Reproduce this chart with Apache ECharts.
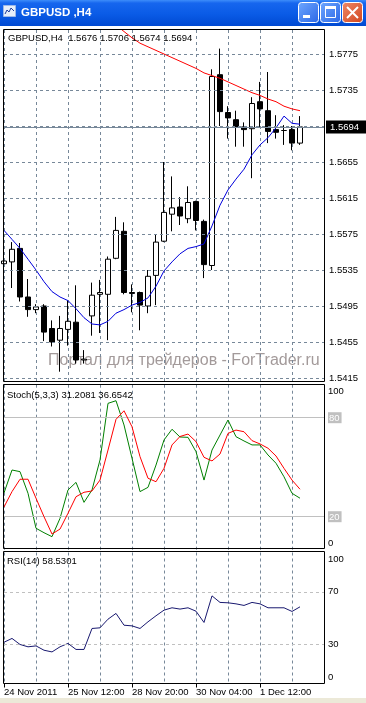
<!DOCTYPE html>
<html><head><meta charset="utf-8">
<script src="https://cdn.jsdelivr.net/npm/echarts@6/dist/echarts.min.js"></script>
<style>html,body{margin:0;padding:0;background:#fff;overflow:hidden}#c{width:366px;height:703px}</style>
</head><body><div id="c"></div><script>
// ---------- data ----------
const symbolName = 'GBPUSD,H4';
const categories = [
 '2011.11.24 04:00','2011.11.24 08:00','2011.11.24 12:00','2011.11.24 16:00','2011.11.24 20:00',
 '2011.11.25 00:00','2011.11.25 04:00','2011.11.25 08:00','2011.11.25 12:00','2011.11.25 16:00','2011.11.25 20:00',
 '2011.11.28 00:00','2011.11.28 04:00','2011.11.28 08:00','2011.11.28 12:00','2011.11.28 16:00','2011.11.28 20:00',
 '2011.11.29 00:00','2011.11.29 04:00','2011.11.29 08:00','2011.11.29 12:00','2011.11.29 16:00','2011.11.29 20:00',
 '2011.11.30 00:00','2011.11.30 04:00','2011.11.30 08:00','2011.11.30 12:00','2011.11.30 16:00','2011.11.30 20:00',
 '2011.12.01 00:00','2011.12.01 04:00','2011.12.01 08:00','2011.12.01 12:00','2011.12.01 16:00','2011.12.01 20:00',
 '2011.12.02 00:00','2011.12.02 04:00','2011.12.02 08:00','2011.12.02 12:00','2011.12.02 16:00','2011.12.02 20:00'];
const opens  = [1.5542,1.5544,1.5559,1.5505,1.5491,1.5495,1.5470,1.5457,1.5469,1.5477,1.5435,1.5484,1.5508,1.5508,1.5548,1.5578,1.5510,1.5510,1.5495,1.5529,1.5567,1.5597,1.5605,1.5592,1.5611,1.5589,1.5540,1.5752,1.5710,1.5702,1.5694,1.5692,1.5722,1.5712,1.5691,1.5690,1.5691,1.5676];
const highs  = [1.5559,1.5566,1.5565,1.5525,1.5497,1.5497,1.5479,1.5484,1.5501,1.5518,1.5446,1.5521,1.5524,1.5550,1.5594,1.5588,1.5519,1.5511,1.5535,1.5574,1.5655,1.5639,1.5616,1.5628,1.5612,1.5591,1.5758,1.5781,1.5717,1.5712,1.5699,1.5727,1.5744,1.5755,1.5707,1.5696,1.5695,1.5706];
const lows   = [1.5537,1.5515,1.5500,1.5483,1.5487,1.5456,1.5450,1.5422,1.5451,1.5431,1.5431,1.5462,1.5465,1.5457,1.5547,1.5508,1.5488,1.5468,1.5487,1.5496,1.5566,1.5578,1.5585,1.5587,1.5579,1.5526,1.5535,1.5695,1.5681,1.5672,1.5672,1.5637,1.5694,1.5676,1.5681,1.5674,1.5668,1.5674];
const closes = [1.5545,1.5558,1.5505,1.5491,1.5494,1.5466,1.5455,1.5470,1.5478,1.5435,1.5436,1.5507,1.5510,1.5547,1.5579,1.5510,1.5509,1.5496,1.5528,1.5566,1.5599,1.5604,1.5595,1.5610,1.5590,1.5541,1.5750,1.5711,1.5704,1.5694,1.5691,1.5720,1.5714,1.5689,1.5688,1.5690,1.5676,1.5694];
const maFast = [1.5579,1.5569,1.5559,1.5547,1.5535,1.5522,1.5511,1.5505,1.5501,1.5492,1.5482,1.5475,1.5474,1.5478,1.5487,1.5491,1.5496,1.5499,1.5504,1.5517,1.5534,1.5544,1.5553,1.5559,1.5561,1.5564,1.5584,1.5607,1.5624,1.5636,1.5647,1.5663,1.5674,1.5682,1.5693,1.5706,1.5698,1.5697];
const maSlow = [null,null,null,null,null,null,null,null,null,null,null,null,null,null,1.5807,1.5800,1.5793,1.5787,1.5783,1.5779,1.5775,1.5771,1.5767,1.5763,1.5759,1.5754,1.5751,1.5748,1.5744,1.5740,1.5736,1.5732,1.5729,1.5725,1.5722,1.5717,1.5714,1.5712];
const stochMain = [34.4,48.3,47.3,34.2,13.0,10.3,7.9,19.0,36.2,40.8,28.7,36.2,54.4,88.7,90.3,75.6,55.4,35.2,37.8,51.3,66.5,73.0,68.3,68.1,59.4,42.2,60.4,69.5,78.6,68.5,65.9,63.5,63.5,57.4,52.4,44.2,34.2,31.2081];
const stochSignal = [25.9,35.2,42.7,42.7,31.2,20.0,9.5,12.5,22.1,32.1,34.8,35.6,42.2,60.4,79.0,84.2,74.5,56.4,43.3,41.2,49.3,63.5,68.6,70.1,65.5,56.0,53.8,58.0,70.5,72.5,71.5,66.1,64.1,61.5,56.8,49.3,42.2,36.6542];
const rsiValues = [31.5,34.4,29.8,28.0,28.7,25.4,24.1,28.0,30.6,26.0,26.0,42.0,42.5,49.1,53.5,44.5,44.0,42.0,47.1,51.7,56.0,57.8,56.8,57.8,55.2,46.6,66.9,61.9,61.6,60.8,59.6,61.9,60.8,57.8,57.8,57.8,55.0,58.5301];
const priceTicks = [1.5415,1.5455,1.5495,1.5535,1.5575,1.5615,1.5655,1.5695,1.5735,1.5775];
const bidPrice = 1.5694;
const timeLabelIdx = [0,8,16,24,32];
const timeLabels = ['24 Nov 2011','25 Nov 12:00','28 Nov 20:00','30 Nov 04:00','1 Dec 12:00'];
const stochLevels = [80,20];
const rsiLevels = [70,30];

// ---------- chart ----------
const FF = '"Liberation Sans", Arial, sans-serif';
const FS = 9.5;
const chart = echarts.init(document.getElementById('c'), null, {renderer:'canvas', width:366, height:703});
const last = opens.length - 1;
const fmt = v => v.toFixed(4);

function xAx(gi, showLabels) {
  return {
    type:'category', gridIndex:gi, data:categories, boundaryGap:false,
    axisLine:{show:false},
    axisTick:{show:showLabels, interval:(i)=>timeLabelIdx.includes(i), length:4, lineStyle:{color:'#000'}},
    axisLabel:{show:showLabels, interval:(i)=>timeLabelIdx.includes(i),
      formatter:(v)=>{const k=timeLabelIdx.indexOf(categories.indexOf(v)); return k>=0?timeLabels[k]:'';},
      align:'left', margin:4, fontSize:FS, fontFamily:FF, color:'#000'},
    splitLine:{show:true, interval:(i)=>i%4===0 && i<40, lineStyle:{color:'#778899', type:[3,3], width:1}}
  };
}
const padRich = {
  t:{padding:[14,0,0,0], fontSize:FS, fontFamily:FF, color:'#000'},
  b:{padding:[0,0,12,0], fontSize:FS, fontFamily:FF, color:'#000'},
  box:{backgroundColor:'#C0C0C0', color:'#fff', padding:[1,2,0,1], fontSize:FS, fontFamily:FF}
};

const option = {
  animation:false,
  backgroundColor:'#fff',
  textStyle:{fontFamily:FF},
  grid:[
    {left:4, top:30, width:320, height:351.5},
    {left:4, top:384.7, width:320, height:165},
    {left:4, top:552.5, width:320, height:131}
  ],
  xAxis:[xAx(0,false), xAx(1,false), xAx(2,true)],
  yAxis:[
    {type:'value', gridIndex:0, min:1.541111, max:1.580167, position:'right',
     axisLine:{show:false}, axisTick:{show:false}, axisLabel:{show:false}, splitLine:{show:false}},
    {type:'value', gridIndex:1, min:0, max:100, interval:20, position:'right',
     axisLine:{show:false}, axisTick:{show:false}, splitLine:{show:false},
     axisLabel:{margin:4, fontSize:FS, fontFamily:FF, color:'#000', rich:padRich,
       formatter:(v)=> v===100?'{t|100}': v===0?'{b|0}': stochLevels.includes(v)?'{box|'+v+'}':''}},
    {type:'value', gridIndex:2, min:0, max:100, interval:10, position:'right',
     axisLine:{show:false}, axisTick:{show:false}, splitLine:{show:false},
     axisLabel:{margin:4, fontSize:FS, fontFamily:FF, color:'#000', rich:padRich,
       formatter:(v)=> v===100?'{t|100}': v===0?'{b|0}': rsiLevels.includes(v)?String(v):''}}
  ],
  series:[
    {type:'line', name:'grid', xAxisIndex:0, yAxisIndex:0, data:closes, clip:false, silent:true, z:1,
     symbol:'none', lineStyle:{opacity:0, width:0},
     markLine:{silent:true, symbol:['none','none'], animation:false, precision:5,
       lineStyle:{color:'#778899', type:[3,3], width:1},
       label:{show:true, position:'end', distance:5, color:'#000', fontSize:FS, fontFamily:FF},
       data: priceTicks.map(v=>({yAxis:v, label:{show: v!==1.5695, formatter: fmt(v)}})).concat([
         {yAxis:bidPrice, lineStyle:{type:'solid', color:'#778899', width:1},
          label:{show:true, formatter:fmt(bidPrice), color:'#fff', backgroundColor:'#000', padding:[2,7,1,4], distance:2}}])
     }},
    {type:'candlestick', name:'GBPUSD', xAxisIndex:0, yAxisIndex:0, z:3, barWidth:5,
     data: opens.map((o,i)=>[o, closes[i], lows[i], highs[i]]),
     itemStyle:{color:'#fff', color0:'#000', borderColor:'#000', borderColor0:'#000', borderWidth:1}},
    {type:'line', name:'MA slow', xAxisIndex:0, yAxisIndex:0, data:maSlow, symbol:'none', z:4,
     lineStyle:{color:'#FF0000', width:1}},
    {type:'line', name:'MA fast', xAxisIndex:0, yAxisIndex:0, data:maFast, symbol:'none', z:4,
     lineStyle:{color:'#0000DD', width:1}},
    {type:'line', name:'Stoch main', xAxisIndex:1, yAxisIndex:1, data:stochMain, symbol:'none', z:4,
     lineStyle:{color:'#008000', width:1},
     markLine:{silent:true, symbol:['none','none'], label:{show:false}, precision:2,
       lineStyle:{color:'#C0C0C0', type:'solid', width:1}, data: stochLevels.map(v=>({yAxis:v}))}},
    {type:'line', name:'Stoch signal', xAxisIndex:1, yAxisIndex:1, data:stochSignal, symbol:'none', z:5,
     lineStyle:{color:'#FF0000', width:1}},
    {type:'line', name:'RSI', xAxisIndex:2, yAxisIndex:2, data:rsiValues, symbol:'none', z:4,
     lineStyle:{color:'#191970', width:1},
     markLine:{silent:true, symbol:['none','none'], label:{show:false}, precision:2,
       lineStyle:{color:'#C0C0C0', type:[3,3], width:1}, data: rsiLevels.map(v=>({yAxis:v}))}}
  ],
  graphic:[
    {type:'text', x:48, y:361, z:0, silent:true,
     style:{text:'Портал для трейдеров - ForTrader.ru', font:'16px '+FF, fill:'#A39A9A', verticalAlign:'middle', align:'left'}},
    {type:'text', x:8, y:38, z:20, style:{text: symbolName+'  '+fmt(opens[last])+' '+fmt(highs[last])+' '+fmt(lows[last])+' '+fmt(closes[last]), font:FS+'px '+FF, fill:'#000', verticalAlign:'middle'}},
    {type:'text', x:7, y:395, z:20, style:{text:'Stoch(5,3,3) '+stochMain[last].toFixed(4)+' '+stochSignal[last].toFixed(4), font:FS+'px '+FF, fill:'#000', verticalAlign:'middle'}},
    {type:'text', x:7, y:561.5, z:20, style:{text:'RSI(14) '+rsiValues[last].toFixed(4), font:FS+'px '+FF, fill:'#000', verticalAlign:'middle'}},
    {type:'rect', z:50, silent:true, shape:{x:3.5,y:29.5,width:321,height:352}, style:{fill:'none', stroke:'#000', lineWidth:1}},
    {type:'rect', z:50, silent:true, shape:{x:3.5,y:384.5,width:321,height:164}, style:{fill:'none', stroke:'#000', lineWidth:1}},
    {type:'rect', z:50, silent:true, shape:{x:3.5,y:551.5,width:321,height:132}, style:{fill:'none', stroke:'#000', lineWidth:1}},
    {type:'rect', z:50, silent:true, shape:{x:0,y:698,width:366,height:5}, style:{fill:'#ECE9D8'}},
    {type:'rect', z:100, silent:true, shape:{x:0,y:0,width:366,height:26},
     style:{fill:new echarts.graphic.LinearGradient(0,0,0,1,[{offset:0,color:'#3D8DFA'},{offset:0.12,color:'#1666EE'},{offset:0.55,color:'#0A5BE6'},{offset:1,color:'#0049D2'}])}},
    {type:'rect', z:101, silent:true, shape:{x:3.5,y:5.5,width:12,height:11}, style:{fill:'#E6EEFA', stroke:'#9DB9E8', lineWidth:1}},
    {type:'polyline', z:102, silent:true, shape:{points:[[5,14],[7,10],[9,12],[11,8],[14,11]]}, style:{stroke:'#1E3C9A', lineWidth:1, fill:'none'}},
    {type:'text', x:21, y:13, z:101, silent:true,
     style:{text:'GBPUSD ,H4', font:'bold 11.5px '+FF, fill:'#fff', verticalAlign:'middle', shadowColor:'#0A2270', shadowOffsetX:1, shadowOffsetY:1, shadowBlur:0}},
    {type:'rect', z:101, silent:true, shape:{x:298.5,y:2.5,width:20,height:20,r:3},
     style:{fill:new echarts.graphic.LinearGradient(0,0,1,1,[{offset:0,color:'#6FA8FF'},{offset:1,color:'#2A66E6'}]), stroke:'#fff', lineWidth:1}},
    {type:'rect', z:102, silent:true, shape:{x:303,y:15,width:7,height:3}, style:{fill:'#fff'}},
    {type:'rect', z:101, silent:true, shape:{x:320.5,y:2.5,width:20,height:20,r:3},
     style:{fill:new echarts.graphic.LinearGradient(0,0,1,1,[{offset:0,color:'#6FA8FF'},{offset:1,color:'#2A66E6'}]), stroke:'#fff', lineWidth:1}},
    {type:'rect', z:102, silent:true, shape:{x:325.5,y:6.5,width:10,height:11}, style:{fill:'none', stroke:'#fff', lineWidth:1}},
    {type:'rect', z:102, silent:true, shape:{x:325,y:6,width:11,height:3}, style:{fill:'#fff'}},
    {type:'rect', z:101, silent:true, shape:{x:342.5,y:2.5,width:20,height:20,r:3},
     style:{fill:new echarts.graphic.LinearGradient(0,0,1,1,[{offset:0,color:'#F0896A'},{offset:1,color:'#D0441C'}]), stroke:'#fff', lineWidth:1}},
    {type:'line', z:102, silent:true, shape:{x1:347,y1:7,x2:358,y2:18}, style:{stroke:'#fff', lineWidth:2}},
    {type:'line', z:102, silent:true, shape:{x1:358,y1:7,x2:347,y2:18}, style:{stroke:'#fff', lineWidth:2}}
  ]
};
chart.setOption(option);
</script></body></html>
